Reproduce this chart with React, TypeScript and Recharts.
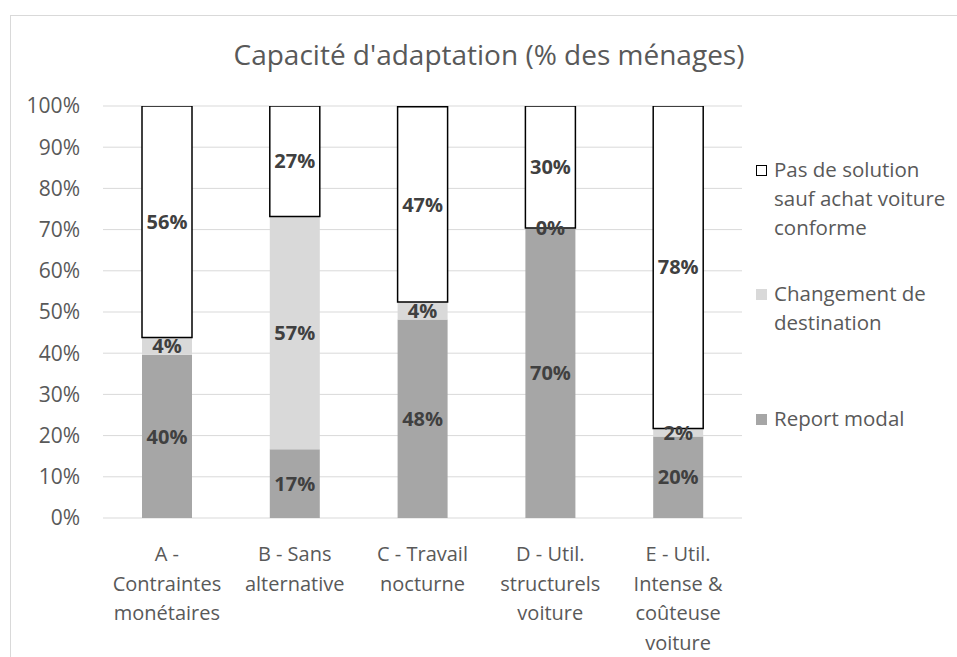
import { BarChart, Bar, XAxis, YAxis, CartesianGrid, LabelList } from "recharts";

const categories = [
  "A - Contraintes monétaires",
  "B - Sans alternative",
  "C - Travail nocturne",
  "D - Util. structurels voiture",
  "E - Util. Intense & coûteuse voiture",
];

// % des ménages
const reportModal = [39.6, 16.7, 48.2, 70.2, 19.8];
const changementDestination = [4.2, 56.5, 4.2, 0.2, 1.9];
const pasDeSolution = [56.2, 26.8, 47.4, 29.6, 78.3];

const yTicks = [0, 10, 20, 30, 40, 50, 60, 70, 80, 90, 100];

const series = [
  { key: "report", name: "Report modal", values: reportModal, fill: "#a6a6a6", stroke: "none" },
  { key: "changement", name: "Changement de destination", values: changementDestination, fill: "#d9d9d9", stroke: "none" },
  { key: "pas", name: "Pas de solution sauf achat voiture conforme", values: pasDeSolution, fill: "#ffffff", stroke: "#000000" },
];

const data = categories.map((name, i) => {
  const row: any = { name };
  series.forEach((s) => (row[s.key] = s.values[i]));
  return row;
});

const FONT = "'Open Sans', 'Noto Sans', sans-serif";
const TEXT = "#595959";

let ctx: CanvasRenderingContext2D | null = null;
function measure(s: string) {
  if (!ctx) ctx = document.createElement("canvas").getContext("2d");
  if (!ctx) return s.length * 10;
  ctx.font = `20px ${FONT}`;
  return ctx.measureText(s).width;
}

function wrap(label: string, maxWidth: number) {
  const words = label.split(" ");
  const lines: string[] = [];
  let cur = "";
  words.forEach((w) => {
    const next = cur ? cur + " " + w : w;
    if (cur && measure(next) > maxWidth) {
      lines.push(cur);
      cur = w;
    } else cur = next;
  });
  if (cur) lines.push(cur);
  return lines;
}

function CategoryTick({ x, y, payload }: any) {
  const lines = wrap(payload.value, 122);
  return (
    <text textAnchor="middle" fill={TEXT} fontSize={20} fontFamily={FONT}>
      {lines.map((l, i) => (
        <tspan key={i} x={x} y={y + 35 + i * 29.6}>
          {l}
        </tspan>
      ))}
    </text>
  );
}

function SideLegend() {
  return (
    <div style={{ fontFamily: FONT, fontSize: 20.5, color: TEXT, lineHeight: "29px" }}>
      {[...series].reverse().map((s) => (
        <div key={s.key} style={{ height: 110, display: "flex", alignItems: "center" }}>
          <div style={{ display: "flex", alignItems: "flex-start" }}>
            <div
              style={{
                width: 11,
                height: 11,
                marginTop: 10,
                marginRight: 7,
                flex: "none",
                background: s.fill,
                border: s.stroke === "none" ? "none" : "1px solid #000",
                boxSizing: "border-box",
              }}
            />
            <div style={{ width: 184 }}>{s.name}</div>
          </div>
        </div>
      ))}
    </div>
  );
}

export default function App() {
  return (
    <div style={{ position: "absolute", left: 0, top: 0, width: 957, height: 657, overflow: "hidden", background: "#fff" }}>
      <div
        style={{
          position: "absolute",
          left: 10,
          top: 15,
          width: 980,
          height: 700,
          border: "1px solid #d9d9d9",
        }}
      />
      <div
        style={{
          position: "absolute",
          left: 0,
          width: 978,
          top: 36,
          textAlign: "center",
          fontFamily: FONT,
          fontSize: 28,
          color: TEXT,
          lineHeight: "36px",
        }}
      >
        Capacité d'adaptation (% des ménages)
      </div>
      <div style={{ position: "absolute", left: 0, top: 0 }}>
        <BarChart
          width={957}
          height={657}
          data={data}
          margin={{ top: 106, right: 215, bottom: 19, left: 0 }}
        >
          <CartesianGrid vertical={false} stroke="#d9d9d9" />
          <XAxis
            dataKey="name"
            axisLine={false}
            tickLine={false}
            height={120}
            interval={0}
            tick={<CategoryTick />}
          />
          <YAxis
            width={103}
            domain={[0, 100]}
            ticks={yTicks}
            allowDataOverflow
            axisLine={false}
            tickLine={false}
            tickMargin={17}
            tickFormatter={(v) => `${v}%`}
            tick={{ fill: TEXT, fontSize: 21, fontFamily: FONT }}
          />
          {series.map((s) => (
            <Bar
              key={s.key}
              dataKey={s.key}
              name={s.name}
              stackId="a"
              barSize={50}
              fill={s.fill}
              stroke={s.stroke}
              strokeWidth={s.stroke === "none" ? 0 : 1.5}
              isAnimationActive={false}
            >
              <LabelList
                dataKey={s.key}
                position="center"
                formatter={(v: any) => `${Math.round(v)}%`}
                fill="#404040"
                fontSize={20}
                fontWeight="bold"
                fontFamily={FONT}
              />
            </Bar>
          ))}
        </BarChart>
      </div>
      <div style={{ position: "absolute", left: 756, top: 143, width: 200 }}>
        <SideLegend />
      </div>
    </div>
  );
}
